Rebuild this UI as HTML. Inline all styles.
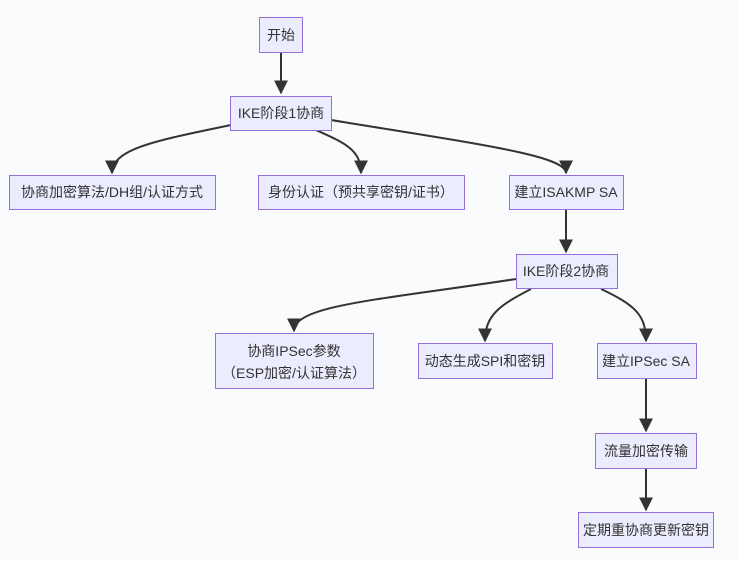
<!DOCTYPE html>
<html><head><meta charset="utf-8"><style>
html,body{margin:0;padding:0;background:#fafbfd;}
svg{display:block}
text{font-family:"Liberation Sans","Noto Sans CJK SC",sans-serif;font-size:14px;fill:#333;text-anchor:middle;dominant-baseline:central}
rect{fill:#ECECFF;stroke:#9370DB;stroke-width:1}
path{fill:none;stroke:#333;stroke-width:2}
</style></head><body>
<svg width="739" height="561" viewBox="0 0 739 561">
<defs><marker id="a" viewBox="0 0 10 10" refX="9" refY="5" markerWidth="7" markerHeight="7" orient="auto"><path d="M0,0L10,5L0,10z" style="fill:#333;stroke:none"/></marker></defs>
<path d="M281,52V93" marker-end="url(#a)"/>
<path d="M231,125C160,140 112,148 112,173" marker-end="url(#a)"/>
<path d="M316,130C345,143 361,150 361,173" marker-end="url(#a)"/>
<path d="M331,120C470,143 566,155 566,173" marker-end="url(#a)"/>
<path d="M566,209V252" marker-end="url(#a)"/>
<path d="M516,279C380,300 294,305 294,331" marker-end="url(#a)"/>
<path d="M531,289C500,305 485,315 485,341" marker-end="url(#a)"/>
<path d="M601,289C635,305 646,315 646,341" marker-end="url(#a)"/>
<path d="M646,378V431" marker-end="url(#a)"/>
<path d="M646,468V510" marker-end="url(#a)"/>
<rect x="259.5" y="17.5" width="43" height="35"/><text x="281" y="35">开始</text>
<rect x="230.5" y="96.5" width="101" height="34"/><text x="281" y="113">IKE阶段1协商</text>
<rect x="9.5" y="175.5" width="206" height="34"/><text x="112" y="192">协商加密算法/DH组/认证方式</text>
<rect x="258.5" y="175.5" width="206" height="34"/><text x="361" y="192">身份认证（预共享密钥/证书）</text>
<rect x="509.5" y="175.5" width="114" height="34"/><text x="566" y="192">建立ISAKMP SA</text>
<rect x="516.5" y="254.5" width="101" height="34"/><text x="566" y="271">IKE阶段2协商</text>
<rect x="215.5" y="333.5" width="158" height="55"/><text x="294" y="351">协商IPSec参数</text><text x="294" y="373">（ESP加密/认证算法）</text>
<rect x="418.5" y="343.5" width="134" height="35"/><text x="485" y="361">动态生成SPI和密钥</text>
<rect x="597.5" y="343.5" width="99" height="35"/><text x="646" y="361">建立IPSec SA</text>
<rect x="595.5" y="433.5" width="101" height="35"/><text x="646" y="451">流量加密传输</text>
<rect x="578.5" y="512.5" width="135" height="35"/><text x="646" y="530">定期重协商更新密钥</text>
</svg>
</body></html>
